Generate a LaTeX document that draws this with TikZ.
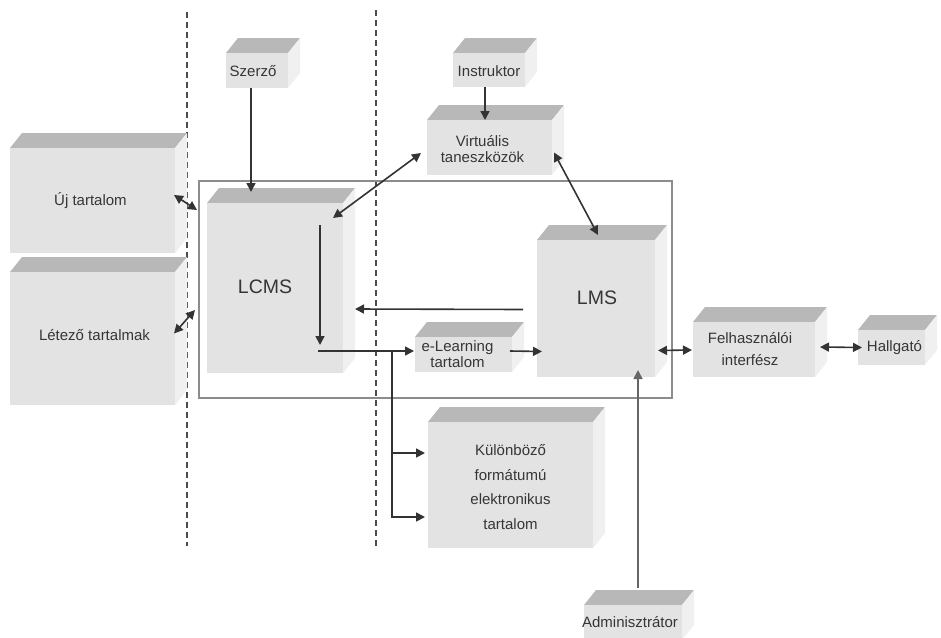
\documentclass[tikz,border=0pt]{standalone}
\usepackage{fontspec}
\setmainfont{Liberation Sans}
\usetikzlibrary{arrows.meta,calc}
\definecolor{frontc}{HTML}{E3E3E3}
\definecolor{topc}{HTML}{B8B8B8}
\definecolor{sidec}{HTML}{F0F0F0}
\definecolor{txtc}{HTML}{363636}
\definecolor{linec}{HTML}{333333}
\definecolor{framec}{HTML}{8C8C8C}
\tikzset{
 cubefront/.style={fill=frontc, draw=none, inner sep=0pt, outer sep=0pt},
 topface/.style={fill=topc},
 sideface/.style={fill=sidec},
 lbl/.style={text=txtc, font=\fontsize{15}{17}\selectfont, align=center, inner sep=0pt},
 biglbl/.style={lbl, font=\fontsize{19.5}{22}\selectfont},
 arr/.style={draw=linec, line width=1.6pt, -{Triangle[length=9pt,width=9pt]}},
 darr/.style={arr, {Triangle[length=9pt,width=9pt]}-{Triangle[length=9pt,width=9pt]}},
 sysframe/.style={draw=framec, line width=2.8pt, fill=none, inner sep=0pt, outer sep=0pt},
 divider/.style={draw=black!70, line width=1.2pt, dash pattern=on 6pt off 4pt},
}
% #1 label style, #2 name, #3 x1, #4 y1, #5 x2, #6 y2 (front face), #7 #8 label shift, #9 text
\newcommand\cube[9]{%
  \pgfmathsetmacro\cubew{#5-#3}%
  \pgfmathsetmacro\cubeh{#6-#4}%
  \pgfmathsetmacro\cubecx{(#3+#5)/2}%
  \pgfmathsetmacro\cubecy{(#4+#6)/2}%
  \fill[topface] (#3,#4) -- (#3+12,#4-15) -- (#5+12,#4-15) -- (#5,#4) -- cycle;
  \fill[sideface] (#5,#4) -- (#5+12,#4-15) -- (#5+12,#6-15) -- (#5,#6) -- cycle;
  \node[cubefront, minimum width=\cubew pt, minimum height=\cubeh pt,
        label={[#1,shift={(#7,#8)}]center:#9}] (#2) at (\cubecx,\cubecy) {};
}
\begin{document}
\begin{tikzpicture}[x=1pt,y=-1pt]
\useasboundingbox (0,0) rectangle (941,637);
% dividers
\draw[divider] (187,12) -- (187,546);
\draw[divider] (376,10) -- (376,546);
% system frame
\node[sysframe, minimum width=473pt, minimum height=217pt] (sys) at (435.5,289.5) {};
% boxes
\cube{lbl}{uj}{10}{148}{175}{253}{-2}{0}{Új tartalom}
\cube{lbl}{letezo}{10}{272}{175}{405}{2}{-3}{Létező tartalmak}
\cube{lbl}{szerzo}{226}{53}{288}{88}{-4}{1}{Szerző}
\cube{lbl}{instr}{453}{53}{525}{87}{0}{1}{Instruktor}
\cube{lbl}{virt}{427}{120}{552}{175}{-7}{2}{Virtuális\\[-1pt]taneszközök}
\cube{biglbl}{lcms}{207}{203}{343}{373}{-10}{-1}{LCMS}
\cube{biglbl}{lms}{537}{240}{655}{377}{1}{-11}{LMS}
\cube{lbl}{elearn}{415}{337}{512}{372}{-6}{0}{e-Learning\\[-1pt]tartalom}
\cube{lbl}{felh}{693}{322}{815}{377}{-4}{0}{Felhasználói\\[5pt]interfész}
\cube{lbl}{hallg}{858}{330}{925}{365}{3}{0}{Hallgató}
\cube{lbl}{kul}{428}{422}{593}{548}{0}{2}{Különböző\\[8pt]formátumú\\[7pt]elektronikus\\[8pt]tartalom}
\cube{lbl}{admin}{584}{605}{682}{640}{-3}{0}{Adminisztrátor}
% connectors
\draw[arr] ($(szerzo.south west)+(25,0)$) -- ($(lcms.north west)+(44,-11)$);
\draw[arr] ($(instr.south)+(-4,0)$) -- ($(virt.north)+(-4.5,0)$);
\draw[darr] ($(virt.west)+(-6,5.5)$) -- ($(lcms.north east)+(-10,15)$);
\draw[darr] ($(virt.east)+(2,5)$) -- ($(lms.north)+(2,-5)$);
\draw[darr] ($(uj.east)+(-1,-5.5)$) -- ($(lcms.north west)+(-10,7)$);
\draw[darr] ($(letezo.east)+(-1,-5)$) -- ($(lcms.north west)+(-12,107)$);
\draw[arr] ($(lcms.north west)+(113,22)$) -- ($(lcms.north west)+(113,142)$);
\coordinate (bx) at ($(lcms.north west)+(185,148)$);
\draw[arr] ($(lcms.north west)+(111,148)$) -- ($(elearn.west)+(-1,-3.5)$);
\draw[arr] (bx) |- ($(kul.west)+(-3,-32)$);
\draw[arr] (bx) |- ($(kul.west)+(-3,32)$);
\draw[arr] ($(lms.west)+(-14,1)$) -- ($(lcms.east)+(12,21)$);
\draw[arr] ($(elearn.east)+(-2,-3.5)$) -- ($(lms.west)+(5,43)$);
\draw[darr] ($(lms.east)+(3,42)$) -- ($(felh.west)+(-1,0.5)$);
\draw[darr] ($(felh.east)+(5,-2.5)$) -- ($(hallg.west)+(4,0)$);
\draw[arr, draw=black!60] ($(admin.north)+(5,-17)$) -- ($(lms.south)+(42,-7)$);
\end{tikzpicture}
\end{document}
